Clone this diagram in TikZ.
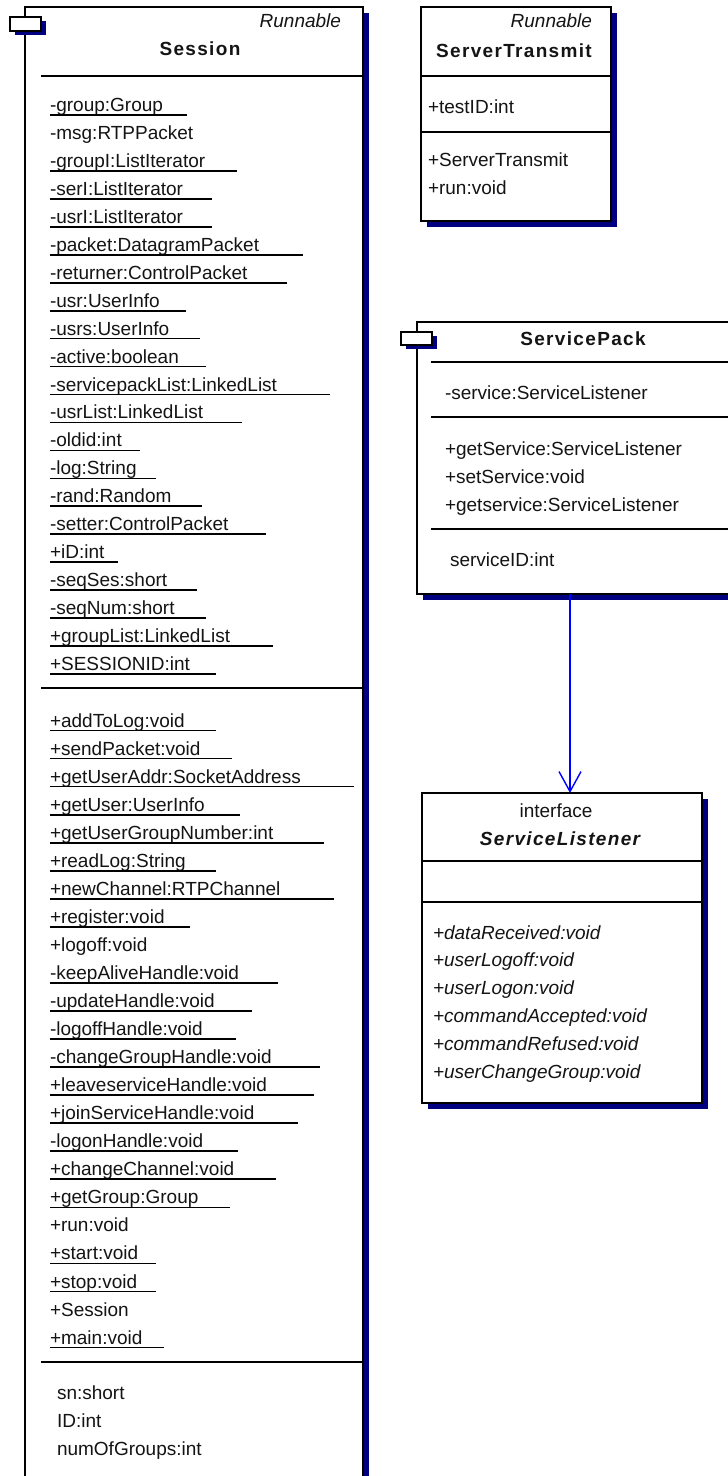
\documentclass[tikz,border=0pt]{standalone}
\usepackage{fontspec}
\setmainfont{Liberation Sans}
\newfontfamily\headfont[LetterSpace=7]{Liberation Sans}
\usetikzlibrary{arrows.meta,shadows}
\definecolor{shade}{RGB}{0,0,128}
\definecolor{linkblue}{RGB}{0,0,255}
\definecolor{ink}{RGB}{20,20,20}

\begin{document}
\begin{tikzpicture}[x=1pt,y=-1pt,
  every node/.style={inner sep=0pt,outer sep=0pt},
  classbox/.style={draw=black,fill=white,line width=1.5pt,anchor=north west,
    drop shadow={shadow xshift=6pt,shadow yshift=-6pt,fill=shade,opacity=1}},
  tabbox/.style={draw=black,fill=white,line width=1.5pt,anchor=north west,
    minimum width=31pt,minimum height=14pt,
    drop shadow={shadow xshift=5pt,shadow yshift=-3.5pt,fill=shade,opacity=1}},
  sep/.style={line width=1.6pt},
  uline/.style={line width=1.7pt},
  member/.style={anchor=base west,font=\fontsize{19pt}{19pt}\selectfont,text=ink},
  imember/.style={member,font=\itshape\fontsize{19pt}{19pt}\selectfont},
  head/.style={anchor=base,font=\headfont\bfseries\fontsize{19pt}{19pt}\selectfont,text=ink},
  stereo/.style={font=\itshape\fontsize{19pt}{19pt}\selectfont,text=ink},
  link/.style={draw=linkblue,line width=1.4pt,
    -{Straight Barb[length=20pt,width=22pt,line width=1.4pt]}}
]
\useasboundingbox (0,0) rectangle (728,1476);
\clip (0,0) rectangle (728,1476);

% ---------------- Session ----------------
\node[classbox,minimum width=338pt,minimum height=1500pt] (session) at (25,7) {};
\node[tabbox] (stab) at (10,17) {};
\node[stereo,anchor=base east] (srun) at (341,27) {Runnable};
\node[head] (sname) at (200,55) {Session};
\draw[sep] (41,76) -- (363,76);
\draw[sep] (41,688) -- (363,688);
\draw[sep] (41,1362) -- (363,1362);

% attributes: text / end of underline (0 = not underlined)
\foreach \lbl/\uend [count=\i from 0] in {
  -group:Group/187, -msg:RTPPacket/0, -groupI:ListIterator/237,
  -serI:ListIterator/212, -usrI:ListIterator/212,
  -packet:DatagramPacket/303, -returner:ControlPacket/287,
  -usr:UserInfo/186, -usrs:UserInfo/200, -active:boolean/206,
  -servicepackList:LinkedList/330, -usrList:LinkedList/242,
  -oldid:int/140, -log:String/156, -rand:Random/202,
  -setter:ControlPacket/266, +iD:int/118, -seqSes:short/197,
  -seqNum:short/206, +groupList:LinkedList/273, +SESSIONID:int/216} {
  \node[member] (sa\i) at (50,{111.5+27.95*\i}) {\lbl};
  \ifnum\uend>0
    \draw[uline] ([yshift=-3.5pt]sa\i.base west) -- ++({\uend-50},0);
  \fi
}

% operations
\foreach \lbl/\uend [count=\i from 0] in {
  +addToLog:void/216, +sendPacket:void/232,
  +getUserAddr:SocketAddress/354, +getUser:UserInfo/240,
  +getUserGroupNumber:int/324, +readLog:String/216,
  +newChannel:RTPChannel/334, +register:void/190, +logoff:void/0,
  -keepAliveHandle:void/278, -updateHandle:void/252,
  -logoffHandle:void/236, -changeGroupHandle:void/320,
  +leaveserviceHandle:void/314, +joinServiceHandle:void/298,
  -logonHandle:void/238, +changeChannel:void/276,
  +getGroup:Group/230, +run:void/0, +start:void/156,
  +stop:void/156, +Session/0, +main:void/164} {
  \node[member] (so\i) at (50,{727+28.05*\i}) {\lbl};
  \ifnum\uend>0
    \draw[uline] ([yshift=-3.5pt]so\i.base west) -- ++({\uend-50},0);
  \fi
}

% static fields
\node[member] (sf0) at (57,1399) {sn:short};
\node[member] (sf1) at (57,1427) {ID:int};
\node[member] (sf2) at (57,1455) {numOfGroups:int};

% ---------------- ServerTransmit ----------------
\node[classbox,minimum width=190pt,minimum height=214pt] (st) at (421,7) {};
\node[stereo,anchor=base east] (strun) at (592,27) {Runnable};
\node[head] (stname) at (514,57) {ServerTransmit};
\draw[sep] (421,76) -- (611,76);
\draw[sep] (421,132) -- (611,132);
\node[member] (sta0) at (428,113) {+testID:int};
\node[member] (sto0) at (428,166) {+ServerTransmit};
\node[member] (sto1) at (428,194) {+run:void};

% ---------------- ServicePack ----------------
\node[classbox,minimum width=330pt,minimum height=272pt] (sp) at (417,322) {};
\node[tabbox,minimum width=31pt,minimum height=13pt] (sptab) at (401,332) {};
\node[head] (spname) at (583,345) {ServicePack};
\draw[sep] (431,362) -- (747,362);
\draw[sep] (431,417) -- (747,417);
\draw[sep] (431,529) -- (747,529);
\node[member] (spa0) at (445,399) {-service:ServiceListener};
\node[member] (spo0) at (445,455) {+getService:ServiceListener};
\node[member] (spo1) at (445,483) {+setService:void};
\node[member] (spo2) at (445,511) {+getservice:ServiceListener};
\node[member] (spf0) at (450,566) {serviceID:int};

% ---------------- ServiceListener ----------------
\node[classbox,minimum width=280pt,minimum height=310pt] (sl) at (422,793) {};
\node[member,anchor=base] (slst) at (556,817) {interface};
\node[head,font=\headfont\bfseries\itshape\fontsize{19pt}{19pt}\selectfont] (slname) at (560,845) {ServiceListener};
\draw[sep] (422,861) -- (702,861);
\draw[sep] (422,902) -- (702,902);
\foreach \lbl [count=\i from 0] in {
  +dataReceived:void, +userLogoff:void, +userLogon:void,
  +commandAccepted:void, +commandRefused:void, +userChangeGroup:void} {
  \node[imember] (slo\i) at (433,{939+27.8*\i}) {\lbl};
}

% ---------------- dependency ----------------
\coordinate (ax) at (570,0);
\draw[link] (ax |- sp.south) -- (ax |- sl.north);
\end{tikzpicture}
\end{document}
